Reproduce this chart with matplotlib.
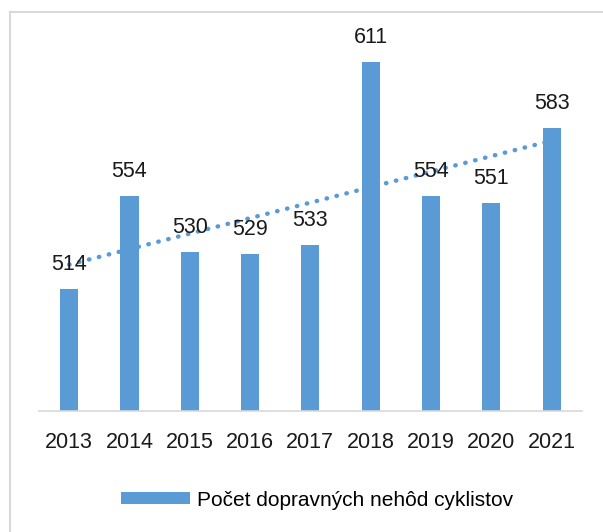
import numpy as np
import matplotlib.pyplot as plt
from matplotlib.lines import Line2D

years = ['2013', '2014', '2015', '2016', '2017', '2018', '2019', '2020', '2021']
accidents = [514, 554, 530, 529, 533, 611, 554, 551, 583]

blue = '#5B9BD5'
plt.rcParams['font.family'] = ['Liberation Sans', 'DejaVu Sans']

fig = plt.figure(figsize=(6.03, 5.32), dpi=100)
ax = fig.add_axes([0.0647, 0.2274, 0.900, 0.735])

x = np.arange(len(years))
bars = ax.bar(x, accidents, width=0.3, color=blue, label='Počet dopravných nehôd cyklistov')

for xi, v in zip(x, accidents):
    ax.annotate(str(v), (xi, v), xytext=(0, 10), textcoords='offset points',
                ha='center', va='bottom', fontsize=15.5, color='#1a1a1a')

# linearny trend
k, q = np.polyfit(x, accidents, 1)
ax.plot(x, k * x + q, linestyle=(0, (0.1, 2.2)), dash_capstyle='round',
        color=blue, linewidth=3.2)

ax.set_xlim(-0.5, len(years) - 0.5)
ax.set_ylim(462, 629)
ax.set_xticks(x, years, fontsize=15.5, color='#1a1a1a')
ax.tick_params(axis='x', length=0, pad=15)
ax.set_yticks([])
for s in ['top', 'right', 'left']:
    ax.spines[s].set_visible(False)
ax.spines['bottom'].set_color('#d9d9d9')
ax.spines['bottom'].set_linewidth(1.2)

ax.legend(handles=[bars], loc='center', bbox_to_anchor=(0.513, -0.228),
          bbox_transform=ax.transAxes, frameon=False, fontsize=15,
          handlelength=3.3, handleheight=0.5, handletextpad=0.35)

# ramik okolo grafu (iba hore a vlavo)
fig.add_artist(Line2D([9.5 / 603, 9.5 / 603], [0, 1 - 12 / 532], color='#d9d9d9', lw=1.5))
fig.add_artist(Line2D([9.5 / 603, 1], [1 - 12 / 532, 1 - 12 / 532], color='#d9d9d9', lw=1.5))

fig.savefig('out.png', dpi=100)
